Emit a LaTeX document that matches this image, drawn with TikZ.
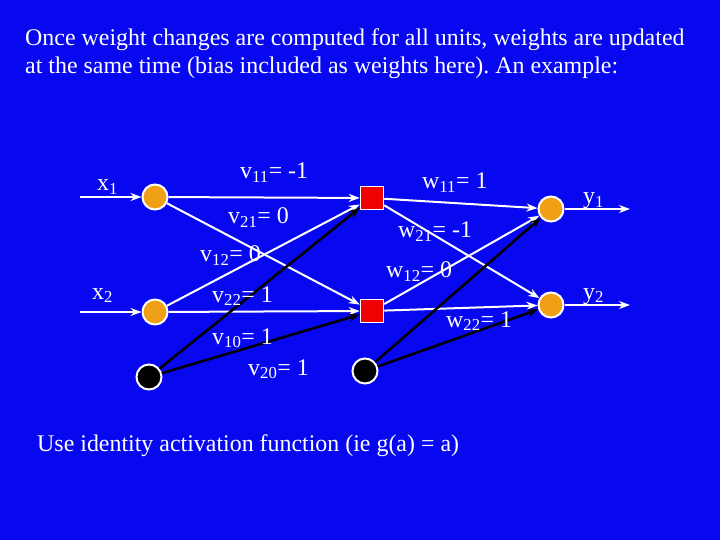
\documentclass[tikz,border=0pt]{standalone}
\usepackage{fontspec}
\setmainfont{Liberation Serif}
\usetikzlibrary{arrows.meta}
\definecolor{slideblue}{RGB}{8,8,240}
\definecolor{unitorange}{RGB}{240,160,20}
\definecolor{unitred}{RGB}{240,0,0}
\newcommand{\sub}[1]{\textsubscript{#1}}
\frenchspacing
\begin{document}
\begin{tikzpicture}[
    x=1bp, y=-1bp,
    input unit/.style={
        circle,
        draw=white,
        fill=unitorange,
        line width=2bp,
        minimum size=25bp,
        inner sep=0pt
    },
    hidden unit/.style={
        rectangle,
        draw=white,
        fill=unitred,
        line width=1.5bp,
        minimum size=23bp,
        inner sep=0pt
    },
    bias unit/.style={
        circle,
        draw=white,
        fill=black,
        line width=2bp,
        minimum size=25bp,
        inner sep=0pt
    },
    connection/.style={
        -{Stealth[length=11bp,width=8bp]},
        white,
        line width=2bp
    },
    bias connection/.style={
        connection,
        black,
        line width=2.5bp
    },
    label/.style={
        anchor=base west,
        text=white,
        font=\fontsize{24}{28}\selectfont,
        inner sep=0pt
    }
]

%% --- Fond ---
\fill[slideblue] (0,0) rectangle (720,540);
\useasboundingbox (0,0) rectangle (720,540);

%% --- Titre ---
\node[label] (T1) at (25,46) {Once weight changes are computed for all units, weights are updated};
\node[label] (T2) at (25,74) {at the same time (bias included as weights here). An example:};

%% --- Entrées ---
\coordinate (I1) at (80,197);
\coordinate (I2) at (80,312);
\node[input unit] (X1) at (155,197) {};
\node[input unit] (X2) at (155,312) {};
\node[bias unit] (B0) at (149,377) {};

%% --- Cachée ---
\node[hidden unit] (H1) at (372,198) {};
\node[hidden unit] (H2) at (372,311) {};
\node[bias unit] (B1) at (365,371) {};

%% --- Sorties ---
\node[input unit] (Y1) at (551,209) {};
\node[input unit] (Y2) at (551,305) {};
\coordinate (O1) at (630,209);
\coordinate (O2) at (630,305);

%% --- Connexions ---
\draw[connection] (I1) -- (X1);
\draw[connection] (I2) -- (X2);
\draw[connection] (X1) -- (H1);
\draw[connection] (X1) -- (H2);
\draw[connection] (X2) -- (H1);
\draw[connection] (X2) -- (H2);
\draw[bias connection] (B0) -- (H1);
\draw[bias connection] (B0) -- (H2);
\draw[connection] (H1) -- (Y1);
\draw[connection] (H1) -- (Y2);
\draw[connection] (H2) -- (Y1);
\draw[connection] (H2) -- (Y2);
\draw[bias connection] (B1) -- (Y1);
\draw[bias connection] (B1) -- (Y2);
\draw[connection] (Y1) -- (O1);
\draw[connection] (Y2) -- (O2);

%% --- Poids ---
\node[label] (Lx1) at (97,191) {x\sub{1}};
\node[label] (Lx2) at (92,299) {x\sub{2}};
\node[label] (Lv11) at (240,179) {v\sub{11}= -1};
\node[label] (Lv21) at (228,224) {v\sub{21}= 0};
\node[label] (Lv12) at (200,262) {v\sub{12}= 0};
\node[label] (Lv22) at (212,302) {v\sub{22}= 1};
\node[label] (Lv10) at (212,344) {v\sub{10}= 1};
\node[label] (Lv20) at (248,375) {v\sub{20}= 1};
\node[label] (Lw11) at (422,189) {w\sub{11}= 1};
\node[label] (Lw21) at (398,238) {w\sub{21}= -1};
\node[label] (Lw12) at (386,278) {w\sub{12}= 0};
\node[label] (Lw22) at (446,327) {w\sub{22}= 1};
\node[label] (Ly1) at (583,204) {y\sub{1}};
\node[label] (Ly2) at (583,299) {y\sub{2}};

%% --- Note ---
\node[label] (N) at (37,451) {Use identity activation function (ie g(a) = a)};

\end{tikzpicture}
\end{document}
